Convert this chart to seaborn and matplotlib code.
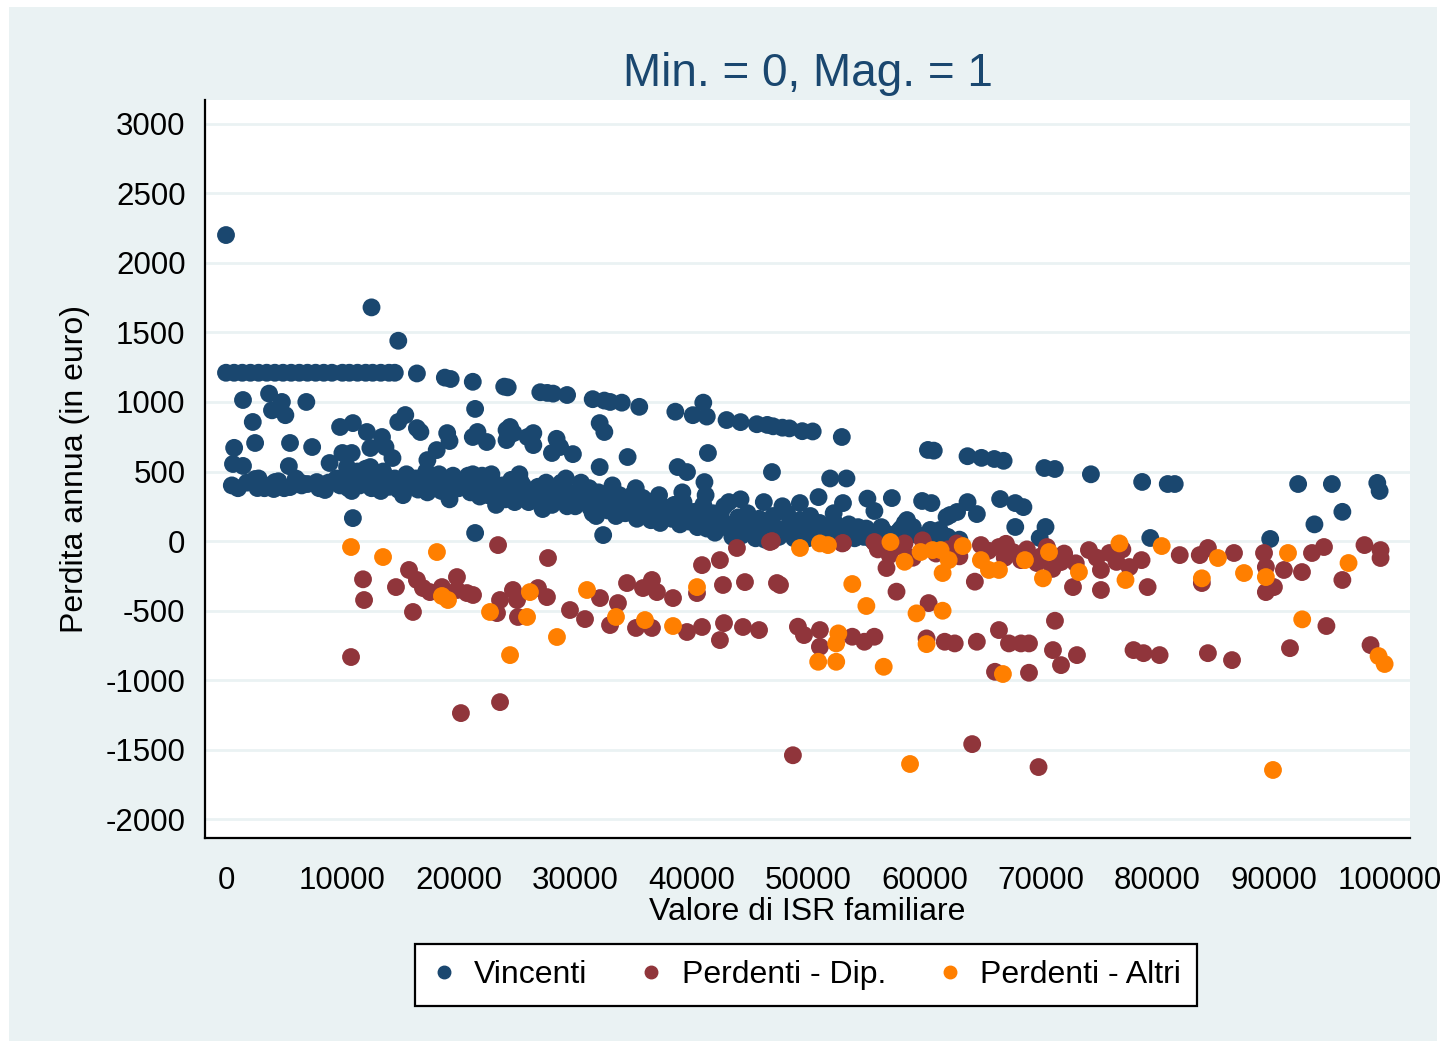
import matplotlib
matplotlib.use("Agg")
import matplotlib.pyplot as plt
from matplotlib.lines import Line2D
from matplotlib.patches import Rectangle
import pandas as pd
import seaborn as sns

# --- data ----------------------------------------------------------------
vinc_x = [
    0, 700, 1400, 2100, 2800, 3500, 4200, 4900, 5600, 6300, 7000, 7700, 8400, 9100,
    10000, 10600, 11300, 12000, 12600, 13300, 14000, 14500,
    0, 12500, 14800,
    16400, 18800, 19300, 21200, 23900, 24200, 27000, 27600, 28100, 29300, 31500,
    32500, 33000, 34000, 35500, 38600, 40100, 41300, 41000, 43000, 44200, 45600,
    46500, 47000, 47800, 48400, 49500, 50400, 52900, 60300, 60800, 63700, 64900,
    66000, 66800, 70300, 71200, 74300, 78700, 80900, 81500, 92100, 95000, 98900,
    99100, 95900, 93500, 89700, 79400,
    1460, 3700, 4800, 6900, 3950, 5100, 2300, 21400, 2500, 5500, 700, 7400, 600,
    1460, 1030, 2500, 2700, 4200, 4100, 5400, 5500, 6500, 7800, 8500, 8900, 9800,
    10900, 10000, 10800, 10400, 10900, 10900, 12100, 12400, 13400, 13700, 12400,
    13100, 14300, 14800, 15400, 16400, 16700, 18100, 17300, 19000, 19200, 21200,
    21600, 22400, 24100, 24100, 24400, 24700, 25900, 26400, 26400, 28400, 28700,
    29800, 32100, 32100, 32500, 28000, 34500, 41400, 38800, 39600, 41100, 46900,
    51900, 53300, 50900, 55100, 57200, 49300, 55700, 53000, 32400, 21400, 59800,
    60600, 62200, 62800, 63700, 64500, 66500, 67800, 68500, 67800, 70400, 69900,
    58300, 59000, 61300, 58500, 61900,
    500, 1800, 2800, 3300, 3800, 4500, 5000, 6000, 6500, 7000, 8000, 8800, 9500, 9800,
    10500, 11000, 11500, 12000, 12500, 13000, 13500, 14000, 14500, 15000, 15500,
    16000, 16500, 17000, 17500, 18000, 18500, 19000, 19500, 20000, 20500, 21000,
    21500, 22000, 22500, 23000, 23500, 24000, 24500, 25000, 25500, 26000, 26500,
    27000, 27500, 28000, 28500, 29000, 29500, 30000, 30500, 31000, 31500, 32000,
    32500, 33000, 33500, 34000, 34500, 35000, 35500, 36000, 36500, 37000, 37500,
    38000, 38500, 39000, 39500, 40000, 40500, 41000, 41500, 42000, 42500, 43000,
    43500, 44000, 44500, 45000, 45500, 46000, 46500, 47000, 47500, 48000, 48500,
    49000, 49500, 50000, 50500, 51000, 51500, 52000, 52500, 53000, 53500, 54000,
    54500, 55000, 55500, 56000, 56500, 57000, 57500, 58000, 58500, 59000, 60000,
    61000, 62000,
    10200, 10800, 11300, 11800, 12300, 12800, 13300, 13800, 14300, 14800, 15300,
    15800, 16300, 16800, 17300, 17800, 18300, 18800, 19300, 19800, 20300, 20800,
    21300, 21800, 22300, 22800, 23300, 23800, 24300, 24800, 25300, 25800, 26300,
    26800, 27300, 27800, 28300, 28800, 29300, 29800, 30300, 30800, 31300, 31800,
    32300, 32800, 33300, 33800, 34300, 34800, 35300, 35800, 36300, 36800, 37300,
    37800, 38300, 38800, 39300, 39800, 40300, 40800, 41300, 41800, 42300, 42800,
    43300, 43800, 44300, 44800, 45300, 45800, 46300, 46800, 47300, 47800, 48300,
    48800, 49300, 49800, 50300, 50800, 51300, 51800, 52300, 52800, 53300, 53800,
    54300, 54800, 55300, 55800, 56300, 56800, 57300, 57800, 58300, 59500, 60500,
    61500, 63000,
    15200, 17200, 19200, 21200, 23200, 25200, 27200, 29200, 31200, 33200, 35200,
    37200, 39200, 41200, 43200, 44200, 46200, 48200, 50200, 52200,
]
vinc_y = [
    1210, 1210, 1210, 1210, 1210, 1210, 1210, 1210, 1210, 1210, 1210, 1210, 1210, 1210,
    1210, 1210, 1210, 1210, 1210, 1210, 1210, 1210,
    2200, 1680, 1440,
    1205, 1175, 1165, 1145, 1110, 1105, 1070, 1065, 1060, 1050, 1020,
    1010, 1000, 995, 965, 930, 905, 895, 995, 870, 855, 840,
    835, 825, 815, 810, 790, 788, 748, 655, 650, 610, 598,
    590, 577, 525, 518, 480, 425, 410, 410, 410, 410, 418,
    360, 210, 120, 15, 22,
    1014, 1060, 1000, 1000, 940, 905, 856, 950, 705, 705, 670, 676, 554,
    540, 380, 446, 381, 424, 374, 539, 388, 417, 424, 367, 561, 820,
    848, 633, 633, 532, 403, 165, 784, 669, 748, 676, 532,
    453, 597, 856, 906, 812, 784, 654, 582, 776, 719, 748,
    784, 712, 798, 726, 820, 776, 748, 690, 776, 735, 676,
    625, 848, 532, 784, 633, 604, 633, 532, 496, 424, 496,
    450, 450, 316, 305, 309, 273, 216, 273, 43, 58, 288,
    273, 187, 209, 280, 194, 302, 273, 244, 101, 101, 22,
    129, 101, 79, 151, 173,
    400, 420, 450, 380, 400, 430, 380, 450, 400, 410, 380, 420, 450, 400,
    380, 450, 400, 520, 380, 430, 500, 390, 450, 400, 480,
    420, 370, 460, 390, 430, 360, 410, 470, 380, 440, 350,
    400, 470, 330, 420, 370, 300, 440, 350, 400, 280, 370,
    330, 420, 260, 380, 310, 350, 250, 420, 300, 200, 350,
    260, 320, 180, 280, 230, 340, 200, 270, 150, 300, 220,
    180, 260, 120, 230, 180, 100, 260, 140, 60, 200, 120,
    30, 170, 80, 140, 20, 110, 60, 180, 30, 90, 140,
    40, 100, 20, 70, 130, 30, 80, 10, 60, 120, 20,
    50, 90, 10, 40, 70, 20, 50, 90, 30, 60, 20,
    50, 30,
    430, 360, 500, 420, 460, 390, 360, 450, 420, 370, 440,
    390, 450, 400, 350, 420, 480, 380, 350, 420, 400, 470,
    380, 320, 420, 480, 340, 400, 360, 280, 430, 330, 300,
    390, 270, 350, 300, 420, 250, 330, 290, 360, 240, 180,
    300, 220, 270, 330, 200, 260, 160, 310, 220, 250, 130,
    240, 160, 200, 280, 140, 210, 150, 90, 200, 130, 250,
    80, 130, 40, 200, 90, 160, 10, 120, 80, 250, 60,
    20, 150, 60, 110, 40, 90, 10, 130, 40, 20, 70,
    100, 30, 60, 20, 100, 40, 10, 70, 20, 40, 80,
    20, 10,
    330, 500, 300, 480, 260, 480, 230, 450, 380, 400, 380,
    330, 350, 330, 280, 300, 280, 200, 180, 200,
]

dip_x = [
    11770, 11860, 10740, 14600, 15720, 16060, 16400, 16920, 17520, 18550, 19840,
    19840, 20700, 21220, 23370, 23540, 23280, 24650, 25000, 25080, 26800, 27570,
    27660, 29550, 30840, 32130, 32990, 33670, 34450, 35220, 35820, 36590, 36590,
    37020, 38400, 39600, 40460, 40890, 40890, 42430, 42430, 42780, 42690, 43890,
    44410, 44580, 45790, 46900, 47330, 47590, 20180, 23540, 48700, 64100, 69800,
    52940, 55700, 56740, 57600, 58290, 59840, 62780, 64330, 64850, 66400, 67600,
    68290, 69660, 70520, 71730, 72760, 74130, 75160, 75160, 75900, 77610, 78650,
    79170, 81930, 83650, 84350, 83830, 86590, 89170, 89330, 90020, 89330, 90880,
    92430, 93290, 94320, 95900, 97800, 99180, 99180, 60360,
    49130, 49650, 51020, 51020, 53800, 54840, 55700, 60180, 61740, 62600, 64500,
    66400, 67260, 68290, 68980, 66060, 68980, 71210, 71040, 71730, 73100, 77960,
    78820, 80200, 84350, 86420, 91400, 94530, 98320,
    46730, 53000, 55750,
    56000, 57000, 58000, 59000, 60000, 61000, 62000, 63000, 65500, 66900, 67000,
    68800, 70000, 71000, 72000, 73000, 74800, 76500, 77000,
]
dip_y = [
    -275, -424, -834, -331, -208, -510, -280, -338, -367, -331, -259,
    -352, -374, -388, -29, -424, -518, -352, -424, -546, -338, -403,
    -122, -496, -561, -410, -604, -446, -302, -625, -338, -280, -625,
    -367, -410, -654, -374, -173, -618, -712, -137, -590, -316, -50,
    -618, -295, -640, 0, -302, -316, -1237, -1158, -1540, -1460, -1625,
    -17, -7, -194, -364, -17, 5, -17, -292, -29, -43, -79,
    -137, -158, -43, -151, -331, -65, -352, -208, -86, -187, -137,
    -331, -101, -101, -50, -302, -86, -86, -187, -331, -367, -208,
    -223, -86, -43, -280, -29, -65, -122, -446,
    -616, -676, -640, -760, -688, -724, -688, -700, -724, -736, -724,
    -640, -736, -736, -736, -940, -947, -573, -784, -892, -820, -784,
    -806, -820, -806, -856, -770, -611, -748,
    -7, -14, -14,
    -60, -100, -40, -120, -30, -90, -60, -110, -70, -120, -20,
    -60, -110, -200, -90, -160, -120, -150, -60,
]

alt_x = [
    10740, 13490, 18120, 18550, 19070, 22680, 24400, 25860, 26110, 28430, 31010,
    33500, 35990, 38400, 40460, 49310, 51020, 51710, 57080, 58290, 59670, 60700,
    61390, 62080, 61560, 63290, 64850, 65540, 66400, 68630, 70180, 70700, 73270,
    76750, 77270, 80380, 83830, 85210, 87450, 89330, 91230, 96430, 53800, 55010,
    59320, 61560, 52600, 52420, 50870, 52420, 56500, 60180, 66740, 92450, 99010,
    99530, 58760, 89940,
]
alt_y = [
    -43, -115, -79, -395, -424, -510, -820, -546, -367, -690, -352,
    -546, -568, -611, -331, -50, -17, -29, -7, -149, -79, -65,
    -65, -137, -230, -36, -137, -208, -208, -137, -268, -79, -223,
    -17, -280, -36, -268, -122, -230, -259, -86, -158, -309, -467,
    -520, -501, -664, -736, -868, -868, -904, -741, -956, -563, -827,
    -884, -1603, -1646,
]

groups = ["Vincenti", "Perdenti - Dip.", "Perdenti - Altri"]
NAVY = "#1a476f"
MAROON = "#90353b"
ORANGE = "#ff7f00"
BG = "#eaf2f3"

df = pd.concat([
    pd.DataFrame({"isr": vinc_x, "perdita": vinc_y, "gruppo": groups[0]}),
    pd.DataFrame({"isr": dip_x, "perdita": dip_y, "gruppo": groups[1]}),
    pd.DataFrame({"isr": alt_x, "perdita": alt_y, "gruppo": groups[2]}),
], ignore_index=True)

# --- plot ------------------------------------------------------------------
sns.set_style("white")
plt.rcParams["font.family"] = ["Liberation Sans", "DejaVu Sans"]
plt.rcParams["axes.unicode_minus"] = False
plt.rcParams["text.color"] = "black"
plt.rcParams["axes.labelcolor"] = "black"

W, H = 1446, 1048
fig = plt.figure(figsize=(W / 100, H / 100), dpi=100, facecolor="white")
fig.patches.append(Rectangle((9 / W, 7 / H), (1437 - 9) / W, (1041 - 7) / H,
                             transform=fig.transFigure, facecolor=BG,
                             edgecolor="none", zorder=-10))

ax = fig.add_axes([205 / W, 1 - 838 / H, (1410 - 205) / W, (838 - 100) / H])
ax.set_facecolor("white")

sns.scatterplot(data=df, x="isr", y="perdita", hue="gruppo", hue_order=groups,
                palette=[NAVY, MAROON, ORANGE], s=165, linewidth=0,
                legend=False, ax=ax)

ax.set_xlim(-1804, 101710)
ax.set_ylim(-2135, 3171)
ax.set_xticks(range(0, 100001, 10000))
ax.set_yticks(range(-2000, 3001, 500))
ax.yaxis.grid(True, color=BG, linewidth=2)
ax.xaxis.grid(False)
ax.set_axisbelow(True)

for side in ["top", "right"]:
    ax.spines[side].set_visible(False)
for side in ["left", "bottom"]:
    ax.spines[side].set_color("black")
    ax.spines[side].set_linewidth(1.6)

ax.tick_params(direction="out", length=9, width=1.5, labelsize=22.5,
               colors="black")
ax.tick_params(axis="x", pad=11)
ax.tick_params(axis="y", pad=5)

ax.set_xlabel("Valore di ISR familiare", fontsize=23, labelpad=1)
ax.set_ylabel("Perdita annua (in euro)", fontsize=23, labelpad=11)
ax.set_title("Min. = 0, Mag. = 1", fontsize=33, color=NAVY, pad=10)

handles = [Line2D([], [], marker="o", linestyle="", markersize=9,
                  markerfacecolor=c, markeredgecolor=c)
           for c in [NAVY, MAROON, ORANGE]]
leg = fig.legend(handles, groups, loc="center", ncol=3,
                 bbox_to_anchor=(806 / W, 1 - 975 / H), fontsize=23,
                 frameon=True, fancybox=False, edgecolor="black",
                 framealpha=1, facecolor="white",
                 handlelength=0.8, handletextpad=0.55, columnspacing=1.6,
                 borderpad=0.5)
leg.get_frame().set_linewidth(1.6)

fig.savefig("out.png", dpi=100, facecolor="white")
plt.close(fig)
